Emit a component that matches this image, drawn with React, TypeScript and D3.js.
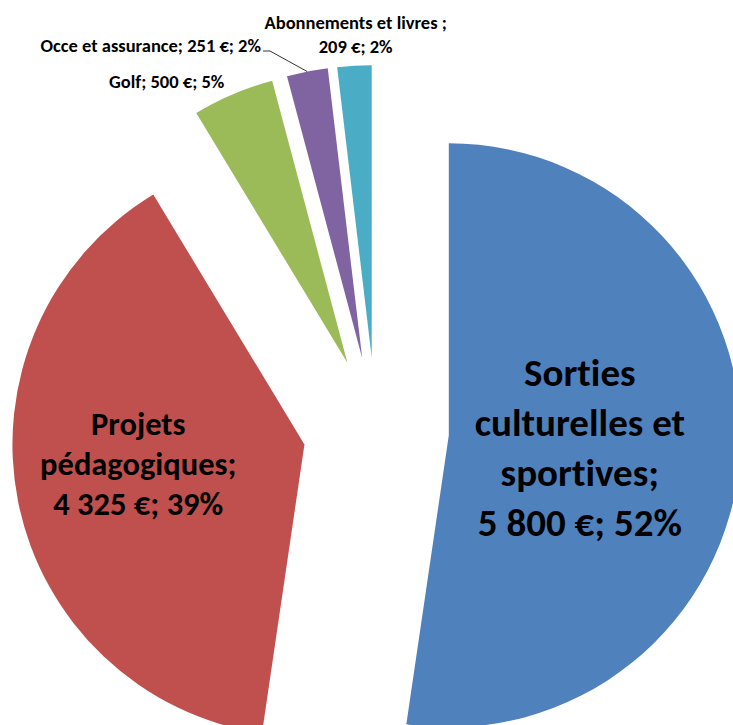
import React from "react";
import * as d3 from "d3";

const categories = [
  "Sorties culturelles et sportives",
  "Projets pédagogiques",
  "Golf",
  "Occe et assurance",
  "Abonnements et livres",
];
const values = [5800, 4325, 500, 251, 209];
const valueLabels = ["5 800 €", "4 325 €", "500 €", "251 €", "209 €"];
const percentLabels = ["52%", "39%", "5%", "2%", "2%"];
const colors = ["#4F81BD", "#C0504D", "#9BBB59", "#8064A2", "#4BACC6"];

const W = 733;
const H = 725;
const cx = 376;
const cy = 430;
const R = 292;
const explode = 73;
const FONT = "Carlito, Calibri, Lato, 'Open Sans', sans-serif";

export default function App() {
  const pie = d3
    .pie<number>()
    .sort(null)
    .value((d) => d)
    .startAngle(0)
    .endAngle(2 * Math.PI);
  const arcs = pie(values);
  const arc = d3.arc<d3.PieArcDatum<number>>().innerRadius(0).outerRadius(R);

  const offs = arcs.map((a) => {
    const m = (a.startAngle + a.endAngle) / 2;
    return [explode * Math.sin(m), -explode * Math.cos(m), m];
  });

  const pt = (i: number, r: number) => {
    const [ox, oy, m] = offs[i];
    return [cx + ox + r * Math.sin(m), cy + oy - r * Math.cos(m)];
  };

  const [bx, by] = pt(0, R * 0.45);
  const [rx, ry] = pt(1, R * 0.57);
  const [gx, gy] = pt(2, R * 1.05);
  const [px, py] = pt(3, R);
  const [tx, ty] = pt(4, R * 1.1);

  return (
    <svg
      width={W}
      height={H}
      style={{ position: "absolute", left: 0, top: 0, background: "#fff" }}
    >
      {arcs.map((a, i) => (
        <path
          key={i}
          d={arc(a) || ""}
          fill={colors[i]}
          transform={`translate(${cx + offs[i][0]},${cy + offs[i][1]})`}
        />
      ))}
      <g
        fontFamily={FONT}
        fontWeight="bold"
        fill="#000"
        textAnchor="middle"
        style={{ fontVariantLigatures: "none" }}
      >
        <text fontSize={39}>
          {["Sorties", "culturelles et", "sportives;", `${valueLabels[0]}; ${percentLabels[0]}`].map(
            (t, k) => (
              <tspan key={k} x={bx} y={by - 59 + k * 50}>
                {t}
              </tspan>
            )
          )}
        </text>
        <text fontSize={32.5}>
          {["Projets", "pédagogiques;", `${valueLabels[1]}; ${percentLabels[1]}`].map((t, k) => (
            <tspan key={k} x={rx - 3} y={ry - 42 + k * 40}>
              {t}
            </tspan>
          ))}
        </text>
        <text x={gx - 3} y={gy + 7} fontSize={18.5} textAnchor="end">
          {`${categories[2]}; ${valueLabels[2]}; ${percentLabels[2]}`}
        </text>
        <polyline
          points={`${px},${py} 270,51 263,51`}
          fill="none"
          stroke="#000"
          strokeWidth={0.8}
        />
        <text x={261} y={52} fontSize={18.5} textAnchor="end">
          {`${categories[3]}; ${valueLabels[3]}; ${percentLabels[3]}`}
        </text>
        <text fontSize={18.5}>
          <tspan x={tx + 3} y={ty - 7}>{`${categories[4]} ;`}</tspan>
          <tspan x={tx + 3} y={ty + 17}>{`${valueLabels[4]}; ${percentLabels[4]}`}</tspan>
        </text>
      </g>
    </svg>
  );
}
